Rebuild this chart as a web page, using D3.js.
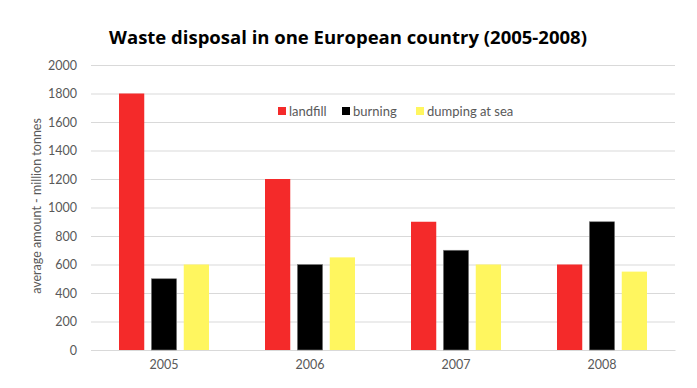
<!DOCTYPE html>
<html><head><meta charset="utf-8">
<script src="https://cdn.jsdelivr.net/npm/d3@7"></script>
<style>body{margin:0;background:#fff}</style>
</head><body>
<svg id="c" width="697" height="388"></svg>
<script>
const years = ["2005","2006","2007","2008"];
const seriesNames = ["landfill","burning","dumping at sea"];
const landfill = [1800,1200,900,600];
const burning = [500,600,700,900];
const dumping = [600,650,600,550];
const yTicks = [0,200,400,600,800,1000,1200,1400,1600,1800,2000];
const colors = ["#F42A2A","#000000","#FFF65F"];
const seriesVals = [landfill, burning, dumping];

const svg = d3.select("#c");
const font = "Lato, 'Open Sans', sans-serif";
const m = {l:91, r:675, t:65, b:350};
const x = d3.scaleBand().domain(years).range([m.l, m.r]);
const y = d3.scaleLinear().domain([0,2000]).range([m.b, m.t]);
const inner = d3.scaleBand().domain(seriesNames).range([-45,45]).paddingInner(0.22);

svg.append("text").attr("x",348).attr("y",44).attr("text-anchor","middle")
  .attr("font-family","'Open Sans', sans-serif").attr("font-weight","bold").attr("font-size",18.5)
  .attr("fill","#000").text("Waste disposal in one European country (2005-2008)");

const yAxis = svg.append("g").attr("transform",`translate(${m.l},0)`)
  .call(d3.axisLeft(y).tickValues(yTicks).tickFormat(d3.format("d")).tickSize(-(m.r-m.l)).tickPadding(14));
yAxis.select(".domain").remove();
yAxis.selectAll("line").attr("stroke","#d9d9d9").attr("stroke-width",1.2);
yAxis.selectAll("text").attr("font-family",font).attr("font-size",12.5).attr("fill","#595959");

const xAxis = svg.append("g").attr("transform",`translate(0,${m.b})`)
  .call(d3.axisBottom(x).tickSize(0).tickPadding(10));
xAxis.select(".domain").attr("stroke","#d9d9d9").attr("stroke-width",1.2);
xAxis.selectAll("text").attr("font-family",font).attr("font-size",12.5).attr("fill","#595959");

svg.append("text").attr("transform","translate(41,206) rotate(-90)").attr("text-anchor","middle")
  .attr("font-family",font).attr("font-size",12.5).attr("fill","#595959")
  .text("average amount - million tonnes");

seriesNames.forEach((s,si)=>{
  svg.append("g").selectAll("rect").data(years).join("rect")
    .attr("x",(d)=>x(d)+x.bandwidth()/2+inner(s))
    .attr("width",inner.bandwidth())
    .attr("y",(d,i)=>y(seriesVals[si][i]))
    .attr("height",(d,i)=>y(0)-y(seriesVals[si][i]))
    .attr("fill",colors[si])
    .attr("stroke", si===1 ? "#7f7f7f" : "none").attr("stroke-width",0.6);
});

const legX = [278,342,416];
const lg = svg.append("g");
seriesNames.forEach((s,i)=>{
  lg.append("rect").attr("x",legX[i]).attr("y",107).attr("width",8).attr("height",8).attr("fill",colors[i]);
  lg.append("text").attr("x",legX[i]+11).attr("y",115.5).attr("font-family",font).attr("font-size",13)
    .attr("fill","#595959").text(s);
});
</script>
</body></html>
